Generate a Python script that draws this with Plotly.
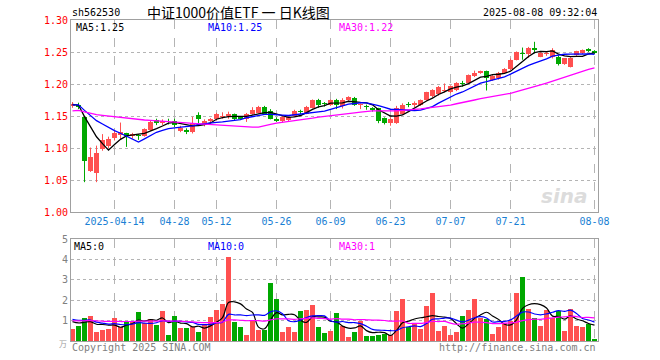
import numpy as np
import pandas as pd
import plotly.graph_objects as go

# ---------------- data ----------------
tick_index = [7, 17, 24, 34, 43, 53, 63, 73, 87]
tick_labels = ["2025-04-14", "04-28", "05-12", "05-26", "06-09", "06-23", "07-07", "07-21", "08-08"]

open_ = [1.169, 1.168, 1.149, 1.064, 1.062, 1.098, 1.103, 1.116, 1.120, 1.123,
         1.119, 1.121, 1.119, 1.129, 1.144, 1.140, 1.143, 1.142, 1.127, 1.129,
         1.125, 1.152, 1.136, 1.143, 1.145, 1.149, 1.150, 1.153, 1.148, 1.145,
         1.153, 1.155, 1.165, 1.158, 1.145, 1.143, 1.144, 1.150, 1.158, 1.154,
         1.163, 1.175, 1.170, 1.168, 1.175, 1.166, 1.175, 1.179, 1.167, 1.165,
         1.163, 1.162, 1.147, 1.139, 1.140, 1.154, 1.169, 1.168, 1.168, 1.175,
         1.181, 1.184, 1.190, 1.188, 1.191, 1.202, 1.201, 1.212, 1.217, 1.220,
         1.206, 1.209, 1.218, 1.223, 1.238, 1.249, 1.247, 1.256, 1.243, 1.247,
         1.243, 1.243, 1.231, 1.227, 1.245, 1.248, 1.255, 1.252]
high = [1.172, 1.171, 1.150, 1.101, 1.104, 1.122, 1.118, 1.128, 1.140, 1.124,
        1.124, 1.122, 1.131, 1.143, 1.146, 1.145, 1.146, 1.146, 1.135, 1.131,
        1.149, 1.156, 1.145, 1.147, 1.155, 1.156, 1.157, 1.154, 1.149, 1.155,
        1.164, 1.166, 1.166, 1.161, 1.148, 1.151, 1.150, 1.160, 1.160, 1.166,
        1.176, 1.177, 1.172, 1.176, 1.177, 1.178, 1.181, 1.180, 1.170, 1.168,
        1.164, 1.163, 1.148, 1.148, 1.166, 1.170, 1.172, 1.173, 1.176, 1.188,
        1.192, 1.197, 1.201, 1.198, 1.203, 1.205, 1.215, 1.221, 1.221, 1.221,
        1.214, 1.219, 1.225, 1.240, 1.251, 1.257, 1.258, 1.266, 1.250, 1.251,
        1.256, 1.245, 1.240, 1.242, 1.252, 1.254, 1.256, 1.253]
low = [1.163, 1.161, 1.047, 1.063, 1.047, 1.096, 1.100, 1.112, 1.113, 1.102,
       1.115, 1.113, 1.118, 1.127, 1.136, 1.136, 1.137, 1.133, 1.125, 1.122,
       1.123, 1.139, 1.134, 1.137, 1.143, 1.146, 1.146, 1.143, 1.144, 1.141,
       1.152, 1.154, 1.152, 1.145, 1.141, 1.140, 1.142, 1.149, 1.153, 1.153,
       1.162, 1.163, 1.165, 1.166, 1.161, 1.162, 1.174, 1.166, 1.161, 1.160,
       1.157, 1.139, 1.137, 1.135, 1.138, 1.152, 1.164, 1.164, 1.166, 1.174,
       1.179, 1.182, 1.187, 1.186, 1.189, 1.196, 1.200, 1.211, 1.216, 1.190,
       1.205, 1.207, 1.217, 1.222, 1.237, 1.238, 1.241, 1.248, 1.242, 1.244,
       1.240, 1.229, 1.230, 1.226, 1.244, 1.247, 1.250, 1.247]
close = [1.166, 1.165, 1.080, 1.086, 1.092, 1.113, 1.114, 1.124, 1.126, 1.119,
         1.122, 1.119, 1.130, 1.141, 1.140, 1.143, 1.142, 1.136, 1.132, 1.125,
         1.139, 1.145, 1.143, 1.145, 1.154, 1.151, 1.154, 1.145, 1.145, 1.154,
         1.160, 1.165, 1.154, 1.146, 1.143, 1.149, 1.149, 1.158, 1.156, 1.165,
         1.175, 1.168, 1.169, 1.175, 1.167, 1.175, 1.180, 1.167, 1.168, 1.164,
         1.159, 1.142, 1.140, 1.146, 1.163, 1.168, 1.168, 1.170, 1.175, 1.187,
         1.191, 1.196, 1.191, 1.197, 1.202, 1.200, 1.214, 1.218, 1.220, 1.209,
         1.213, 1.217, 1.224, 1.238, 1.250, 1.247, 1.257, 1.253, 1.248, 1.248,
         1.253, 1.232, 1.240, 1.241, 1.251, 1.253, 1.251, 1.248]
rising = [1, 0, 0, 1, 1, 1, 1, 1, 1, 0,
          1, 0, 1, 1, 0, 1, 0, 0, 1, 0,
          1, 0, 1, 1, 1, 1, 1, 0, 0, 1,
          1, 1, 0, 0, 0, 1, 1, 1, 0, 1,
          1, 0, 0, 1, 0, 1, 1, 0, 1, 0,
          0, 0, 0, 1, 1, 1, 0, 1, 1, 1,
          1, 1, 1, 1, 1, 0, 1, 1, 1, 0,
          1, 1, 1, 1, 1, 0, 1, 0, 1, 1,
          1, 0, 1, 1, 1, 1, 0, 0]
volume = [0.58, 0.73, 1.13, 1.23, 0.43, 0.53, 0.58, 1.13, 0.70, 0.93,
          0.93, 1.43, 0.87, 1.08, 0.78, 1.48, 0.28, 1.23, 0.63, 0.63,
          0.70, 0.43, 0.77, 1.18, 1.53, 1.83, 4.13, 0.93, 0.68, 0.28,
          0.98, 0.53, 0.53, 2.83, 2.08, 0.43, 0.68, 0.43, 1.48, 1.53,
          1.78, 0.68, 0.38, 0.48, 1.38, 0.73, 0.18, 0.43, 0.98, 0.23,
          0.23, 0.28, 0.33, 0.28, 1.48, 2.08, 0.68, 0.88, 0.58, 1.73,
          2.33, 0.48, 0.73, 0.28, 0.43, 1.23, 1.53, 2.08, 1.13, 1.08,
          0.33, 0.68, 0.88, 0.98, 2.33, 3.13, 1.58, 1.13, 0.73, 1.53,
          1.13, 1.48, 0.48, 1.58, 0.73, 0.68, 0.83, 0.08]
# sessions before the window (estimated from where the MA lines start)
prior_close = [1.148, 1.151, 1.155, 1.150, 1.146, 1.149, 1.153, 1.157, 1.154, 1.150,
               1.152, 1.156, 1.158, 1.155, 1.153, 1.157, 1.156, 1.158, 1.157, 1.160,
               1.164, 1.167, 1.170, 1.168, 1.166, 1.169, 1.171, 1.168, 1.167]
prior_volume = [0.95, 1.00, 0.90, 0.85, 1.05, 0.95, 0.90, 1.00, 0.88, 0.92,
                0.95, 0.90, 0.85, 0.95, 0.90, 0.92, 0.95, 0.98, 1.05, 1.30,
                1.20, 1.15, 1.10, 1.45, 1.00, 1.05, 0.95, 1.10, 1.06]

# ---------------- styling ----------------
RED = "#FF5050"
GREEN = "#00A800"
GRID = "#B4B4B4"
BORDER = "#A0A0A0"
MONO = "DejaVu Sans Mono"
W, H = 660, 360
L, R, T, B = 71, 62, 20, 19
PW, PH = W - L - R, H - T - B


def px(xpix):
    return (xpix - L) / PW


def py(ypix):
    return (H - B - ypix) / PH


n = len(close)
idx = np.arange(n)
o = np.array(open_)
c = np.array(close)
hi = np.array(high)
lo = np.array(low)
up = np.array(rising).astype(bool)
colors = [RED if u else GREEN for u in up]

full_close = pd.Series(prior_close + close)
full_vol = pd.Series(prior_volume + volume)
k = len(prior_close)
ma = {p: full_close.rolling(p, min_periods=1).mean().values[k:] for p in (5, 10, 30)}
vma = {p: full_vol.rolling(p, min_periods=1).mean().values[k:] for p in (5, 10, 30)}

fig = go.Figure()

# wicks
for flag, col in ((True, RED), (False, GREEN)):
    wx, wy = [], []
    for i in idx[up == flag]:
        wx += [i, i, None]
        wy += [lo[i], hi[i], None]
    fig.add_trace(go.Scatter(x=wx, y=wy, mode="lines", line=dict(color=col, width=1),
                             hoverinfo="skip", showlegend=False, xaxis="x", yaxis="y"))

# bodies
body_base = np.minimum(o, c)
body_h = np.maximum(np.abs(c - o), 0.0012)
fig.add_trace(go.Bar(x=idx, y=body_h, base=body_base, width=0.78,
                     marker=dict(color=colors, line=dict(width=0)),
                     showlegend=False, xaxis="x", yaxis="y"))

ma_colors = {5: "#000000", 10: "#0000FF", 30: "#FF00FF"}
for p in (5, 10, 30):
    fig.add_trace(go.Scatter(x=idx, y=ma[p], mode="lines",
                             line=dict(color=ma_colors[p], width=1.3),
                             showlegend=False, xaxis="x", yaxis="y"))

# volume
fig.add_trace(go.Bar(x=idx, y=volume, width=0.72,
                     marker=dict(color=colors, line=dict(width=0)),
                     showlegend=False, xaxis="x2", yaxis="y2"))
for p in (5, 10, 30):
    fig.add_trace(go.Scatter(x=idx, y=vma[p], mode="lines",
                             line=dict(color=ma_colors[p], width=1.2, shape="spline"),
                             showlegend=False, xaxis="x2", yaxis="y2"))

xr = [-0.25, 87.58]
axis_common = dict(showline=True, linecolor=BORDER, linewidth=1, mirror=True,
                   zeroline=False, fixedrange=True)

price_ticks = [1.00, 1.05, 1.10, 1.15, 1.20, 1.25, 1.30]
vol_ticks = [1, 2, 3, 4, 5]

fig.update_layout(
    width=W, height=H,
    margin=dict(l=L, r=R, t=T, b=B),
    paper_bgcolor="white", plot_bgcolor="white",
    bargap=0, barmode="overlay",
    showlegend=False,
    font=dict(family=MONO, size=10, color="#000"),
    xaxis=dict(domain=[0, 1], range=xr, anchor="y",
               tickmode="array", tickvals=tick_index, ticktext=tick_labels,
               tickfont=dict(family=MONO, size=10, color="#1A7FD4"),
               ticks="", showgrid=True, gridcolor=GRID, griddash="dash", gridwidth=1,
               **axis_common),
    yaxis=dict(domain=[py(212.3), 1], range=[1.00, 1.30], anchor="x",
               tickmode="array", tickvals=price_ticks,
               ticktext=[f"{v:.2f}" for v in price_ticks],
               tickfont=dict(family=MONO, size=10, color="#FF0000"),
               ticks="", showgrid=True, gridcolor=GRID, griddash="dot", gridwidth=1,
               **axis_common),
    xaxis2=dict(domain=[0, 1], range=xr, anchor="y2",
                tickmode="array", tickvals=tick_index, showticklabels=False,
                ticks="", showgrid=True, gridcolor=GRID, griddash="dash", gridwidth=1,
                **axis_common),
    yaxis2=dict(domain=[0, py(239)], range=[0, 5], anchor="x2",
                tickmode="array", tickvals=vol_ticks, ticktext=[str(v) for v in vol_ticks],
                tickfont=dict(family=MONO, size=10, color="#808080"),
                ticks="", showgrid=True, gridcolor=GRID, griddash="dot", gridwidth=1,
                **axis_common),
)

ann = []


def text(x, y, s, color="#000", size=10, family=MONO, xanchor="left"):
    ann.append(dict(x=px(x), y=py(y), xref="paper", yref="paper", text=s, showarrow=False,
                    xanchor=xanchor, yanchor="middle",
                    font=dict(family=family, size=size, color=color)))


text(70, 12, "sh562530", size=10)
text(238, 12, "中证1000价值ETF\u00a0一\u00a0日K线图", size=14,
     family="Noto Sans CJK SC", xanchor="center")
text(599, 12, "2025-08-08 09:32:04", xanchor="right")
text(74, 27, "MA5:1.25", color="#000000")
text(206, 27, "MA10:1.25", color="#0000FF")
text(337, 27, "MA30:1.22", color="#FF00FF")
text(72, 246, "MA5:0", color="#000000")
text(206, 246, "MA10:0", color="#0000FF")
text(337, 246, "MA30:1", color="#FF00FF")
text(70, 347, "Copyright 2025 SINA.COM", color="#808080")
text(598, 347, "http://finance.sina.com.cn", color="#808080", xanchor="right")
text(63, 344, "万", color="#A0A0A0", size=8, family="Noto Sans CJK SC", xanchor="center")
text(590, 196, "<b><i>sina</i></b>", color="#DCDCDC", size=20, family="DejaVu Sans",
     xanchor="right")
fig.update_layout(annotations=ann)

fig.write_html("out.html",
               config={"displayModeBar": False, "staticPlot": True},
               post_script="document.body.style.margin='0';document.body.style.padding='0';")
